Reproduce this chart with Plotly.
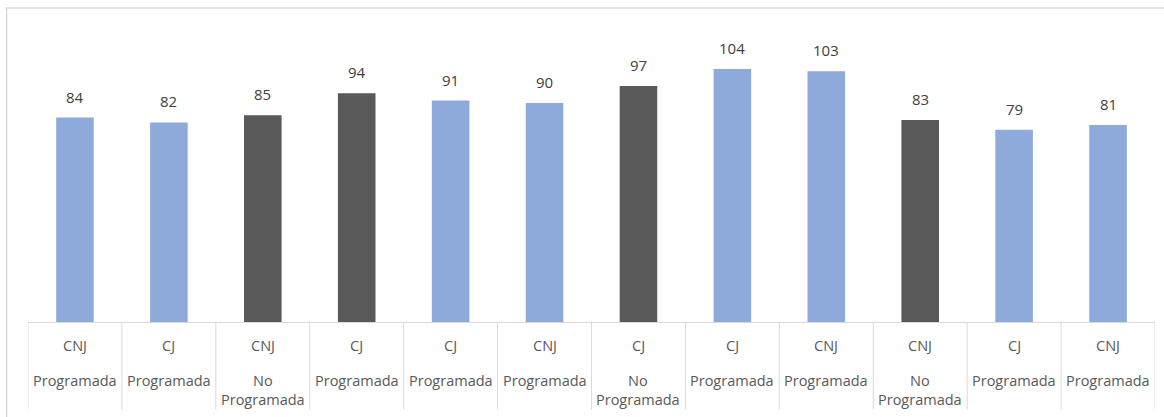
import plotly.graph_objects as go

# Category labels: court type and whether the hearing was scheduled
tribunal = ["CNJ", "CJ", "CNJ", "CJ", "CJ", "CNJ", "CJ", "CJ", "CNJ", "CNJ", "CJ", "CNJ"]
tipo = ["Programada", "Programada", "No Programada", "Programada", "Programada",
        "Programada", "No Programada", "Programada", "Programada", "No Programada",
        "Programada", "Programada"]
valores = [84, 82, 85, 94, 91, 90, 97, 104, 103, 83, 79, 81]
destacado = [False, False, True, True, False, False, True, False, False, True, False, False]

AZUL = "#8eaadb"
GRIS = "#595959"
LINEA = "#d9d9d9"
FUENTE = "Open Sans"

x = list(range(len(valores)))
colores = [GRIS if d else AZUL for d in destacado]

fig = go.Figure(
    go.Bar(
        x=x,
        y=valores,
        marker=dict(color=colores, line=dict(width=0)),
        width=0.4,
        cliponaxis=False,
    )
)

annotations = []
# Value labels above each bar
for xi, v in zip(x, valores):
    annotations.append(dict(
        x=xi, y=v, xref="x", yref="y", text=str(v), showarrow=False,
        yanchor="bottom", yshift=9,
        font=dict(family=FUENTE, size=15, color="#404040"),
    ))
# Two-row category labels below the axis
for xi, t, p in zip(x, tribunal, tipo):
    annotations.append(dict(
        x=xi, y=0, xref="x", yref="paper", text=t, showarrow=False,
        yanchor="middle", yshift=-23,
        font=dict(family=FUENTE, size=14.5, color=GRIS),
    ))
    annotations.append(dict(
        x=xi, y=0, xref="x", yref="paper", text=p.replace(" ", "<br>"),
        showarrow=False, yanchor="top", yshift=-47,
        font=dict(family=FUENTE, size=14.5, color=GRIS),
    ))

# Vertical separators between the category cells below the axis
shapes = [
    dict(type="line", xref="x", yref="paper", x0=i - 0.5, x1=i - 0.5,
         y0=0, y1=-0.30, line=dict(color=LINEA, width=1))
    for i in range(len(valores) + 1)
]
# Chart frame
shapes.append(dict(type="rect", xref="paper", yref="paper",
                   x0=-0.019, x1=1.05, y0=-0.5, y1=1.075,
                   line=dict(color=LINEA, width=1.5)))

fig.update_layout(
    width=1164,
    height=417,
    margin=dict(l=28, r=9, t=30, b=95),
    paper_bgcolor="white",
    plot_bgcolor="white",
    showlegend=False,
    shapes=shapes,
    annotations=annotations,
    xaxis=dict(
        tickmode="array",
        tickvals=x,
        showticklabels=False,
        showline=True,
        linecolor=LINEA,
        linewidth=1,
        showgrid=False,
        zeroline=False,
        ticks="",
        range=[-0.5, len(valores) - 0.5],
    ),
    yaxis=dict(
        range=[0, 120],
        visible=False,
        showgrid=False,
        zeroline=False,
    ),
)

fig.write_html("out.html")
